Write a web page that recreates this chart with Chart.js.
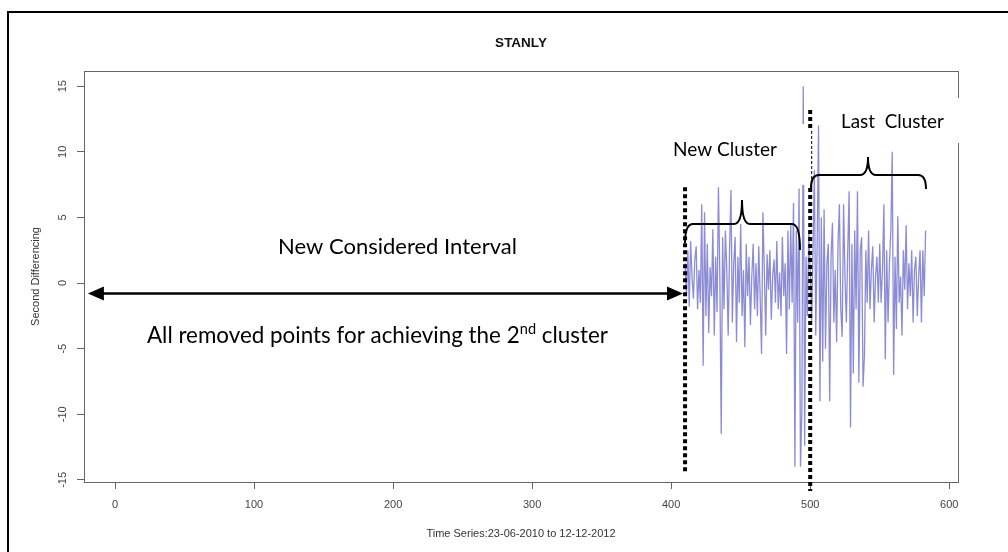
<!DOCTYPE html>
<html>
<head>
<meta charset="utf-8">
<script src="https://cdn.jsdelivr.net/npm/chart.js@4.4.1/dist/chart.umd.min.js"></script>
<style>
  html, body { margin: 0; padding: 0; background: #fff; }
  #wrap { width: 1008px; height: 552px; position: relative; }
</style>
</head>
<body>
<div id="wrap"><canvas id="chart"></canvas></div>
<script>
// second differenced series, first value sits at index 410
const startIndex = 410;
const secondDiff = [
  1.5, -1.0, 2.5, -1.8, 3.2, 0.5, -1.2, 1.8, 2.8, -2.0,
  1.0, -1.5, 6.0, -6.3, 5.4, -2.5, 3.0, -3.8, 1.2, -1.0,
  4.1, -4.0, 2.0, -2.2, 7.3, 0.5, -11.5, 3.5, -2.0, 4.0,
  1.0, -4.0, 2.5, 7.1, -3.0, 1.5, 3.5, -4.5, 2.0, -1.5,
  4.5, -2.5, 1.0, -4.9, 3.0, -1.0, 2.0, -3.2, 0.5, 3.0,
  -2.0, 1.5, -2.5, 2.8, -1.0, -5.4, 5.4, 1.0, -4.0, 2.2,
  -0.5, 2.5, -2.8, 0.5, 1.8, -1.5, 3.2, -2.0, 0.8, -2.5,
  3.5, -1.0, 1.5, -5.4, 4.0, -2.0, 4.5, -1.5, 6.1, -14.0,
  4.0, -3.0, 7.2, -14.0, -9.8, 15.0, -12.4, 2.0, -2.5, 4.0,
  1.0, -3.0, 2.5, 8.6, -4.0, 3.0, 12.0, -9.0, 5.0, -6.0,
  5.6, -5.0, 1.5, 3.0, -9.0, 2.0, 4.6, -3.0, 1.0, -4.5,
  3.0, 6.0, -2.0, -4.1, 6.0, 0.5, -3.0, 2.5, 7.0, -11.0,
  3.0, -6.9, 4.0, -2.0, 7.0, -7.6, 2.5, 3.5, -7.9, -5.6,
  2.5, -1.5, 4.0, -2.0, 1.0, 2.8, -3.0, 0.5, 2.0, -1.5,
  3.0, -1.5, 1.0, 6.0, -5.8, 2.5, -3.0, 1.5, 4.0, 10.0,
  -7.0, 2.0, -3.5, 5.1, -1.5, 0.5, -4.0, 2.5, -0.5, 4.4,
  -2.0, 1.5, -1.0, 2.5, -3.0, 1.0, 2.0, -2.5, 0.5, 2.5,
  -3.0, 2.5, -1.0, 4.0
];
const xTicks = [0, 100, 200, 300, 400, 500, 600];
const yTicks = [-15, -10, -5, 0, 5, 10, 15];

const points = secondDiff.map((v, i) => ({ x: startIndex + i, y: v }));

const ANNO_FONT = "Lato, 'Open Sans', sans-serif";

// scale the font so the string spans the wanted width
function fitFont(ctx, text, width, weight) {
  ctx.font = (weight || "") + " 20px " + ANNO_FONT;
  const w = ctx.measureText(text).width;
  return 20 * width / w;
}

function brace(ctx, x1, x2, xc, yEnd1, yEnd2, yBar, yPeak) {
  const r = 8;
  ctx.beginPath();
  ctx.moveTo(x1, yEnd1);
  ctx.quadraticCurveTo(x1, yBar, x1 + r, yBar);
  ctx.lineTo(xc - r, yBar);
  ctx.quadraticCurveTo(xc, yBar, xc, yPeak);
  ctx.quadraticCurveTo(xc, yBar, xc + r, yBar);
  ctx.lineTo(x2 - r, yBar);
  ctx.quadraticCurveTo(x2, yBar, x2, yEnd2);
  ctx.stroke();
}

function arrowHead(ctx, x, y, dir) {
  ctx.beginPath();
  ctx.moveTo(x, y);
  ctx.lineTo(x - dir * 16, y - 7);
  ctx.lineTo(x - dir * 16, y + 7);
  ctx.closePath();
  ctx.fill();
}

const overlay = {
  id: "overlay",
  afterDraw(chart) {
    const ctx = chart.ctx;
    const a = chart.chartArea;
    const xs = chart.scales.x;
    const ys = chart.scales.y;
    ctx.save();

    // outer frame
    ctx.fillStyle = "#000";
    ctx.fillRect(7, 11, 1001, 2);
    ctx.fillRect(7, 11, 2, 541);

    // plot box
    ctx.strokeStyle = "#666";
    ctx.lineWidth = 1;
    ctx.strokeRect(a.left + 0.5, a.top + 0.5, a.right - a.left, a.bottom - a.top);

    // rotated y tick labels
    ctx.fillStyle = "#444";
    ctx.font = "11px 'Liberation Sans', Arial, sans-serif";
    ctx.textAlign = "center";
    ctx.textBaseline = "middle";
    ys.ticks.forEach(t => {
      const py = ys.getPixelForValue(t.value);
      ctx.save();
      ctx.translate(a.left - 21, py);
      ctx.rotate(-Math.PI / 2);
      ctx.fillText(String(t.value), 0, 0);
      ctx.restore();
    });

    // axis titles and main title
    ctx.fillStyle = "#333";
    ctx.save();
    ctx.translate(36, (a.top + a.bottom) / 2);
    ctx.rotate(-Math.PI / 2);
    ctx.fillText("Second Differencing", 0, 0);
    ctx.restore();
    ctx.fillText("Time Series:23-06-2010 to 12-12-2012", (a.left + a.right) / 2, 534);
    ctx.fillStyle = "#111";
    ctx.font = "bold 13.5px 'Liberation Sans', Arial, sans-serif";
    ctx.fillText("STANLY", (a.left + a.right) / 2, 43);

    // label boxes over the series
    ctx.fillStyle = "#fff";
    ctx.fillRect(662, 124, 146, 61);
    ctx.fillRect(822, 98, 142, 45);

    // cluster limits
    const xA = xs.getPixelForValue(410);
    const xB = xs.getPixelForValue(500);
    ctx.strokeStyle = "#000";
    ctx.lineWidth = 4;
    ctx.setLineDash([4, 3]);
    ctx.beginPath();
    ctx.moveTo(xA, ys.getPixelForValue(7.3));
    ctx.lineTo(xA, ys.getPixelForValue(-14.4));
    ctx.moveTo(xB, 110);
    ctx.lineTo(xB, 131);
    ctx.moveTo(xB, 188);
    ctx.lineTo(xB, 491);
    ctx.stroke();
    ctx.lineWidth = 1;
    ctx.setLineDash([3, 2]);
    ctx.beginPath();
    ctx.moveTo(xB + 1.5, 131);
    ctx.lineTo(xB + 1.5, 188);
    ctx.stroke();
    ctx.setLineDash([]);

    // braces
    ctx.lineWidth = 2;
    brace(ctx, 685, 800, 742, 243, 250, 224, 200);
    brace(ctx, 811, 926, 868, 188, 189, 175, 157);

    // double arrow
    const yArr = ys.getPixelForValue(-0.8);
    const xL = xs.getPixelForValue(-19.5);
    const xR = xs.getPixelForValue(408.5);
    ctx.lineWidth = 2.5;
    ctx.beginPath();
    ctx.moveTo(xL + 10, yArr);
    ctx.lineTo(xR - 10, yArr);
    ctx.stroke();
    ctx.fillStyle = "#000";
    arrowHead(ctx, xL, yArr, -1);
    arrowHead(ctx, xR, yArr, 1);

    // text notes
    ctx.textAlign = "left";
    ctx.textBaseline = "middle";
    let s = fitFont(ctx, "New Considered Interval", 239);
    ctx.font = s + "px " + ANNO_FONT;
    ctx.fillText("New Considered Interval", 278, 247);

    s = fitFont(ctx, "New Cluster", 104);
    ctx.font = s + "px " + ANNO_FONT;
    ctx.fillText("New Cluster", 673, 150);

    s = fitFont(ctx, "Last  Cluster", 103);
    ctx.font = s + "px " + ANNO_FONT;
    ctx.fillText("Last  Cluster", 841, 122);

    const p1 = "All removed points for achieving the 2";
    const sup = "nd";
    const p2 = " cluster";
    ctx.font = "20px " + ANNO_FONT;
    const w1 = ctx.measureText(p1).width;
    const w3 = ctx.measureText(p2).width;
    ctx.font = "13px " + ANNO_FONT;
    const w2 = ctx.measureText(sup).width;
    const k = 461 / (w1 + w2 + w3);
    let x = 147;
    ctx.font = (20 * k) + "px " + ANNO_FONT;
    ctx.fillText(p1, x, 336);
    x += w1 * k;
    ctx.font = (13 * k) + "px " + ANNO_FONT;
    ctx.fillText(sup, x, 329);
    x += w2 * k;
    ctx.font = (20 * k) + "px " + ANNO_FONT;
    ctx.fillText(p2, x, 336);

    ctx.restore();
  }
};

new Chart(document.getElementById("chart"), {
  type: "line",
  data: {
    datasets: [{
      data: points,
      borderColor: "rgba(45, 45, 180, 0.55)",
      borderWidth: 1.3,
      pointRadius: 0,
      tension: 0,
      fill: false
    }]
  },
  options: {
    responsive: true,
    maintainAspectRatio: false,
    animation: false,
    layout: { padding: { top: 71, right: 50, left: 0, bottom: 0 } },
    plugins: { legend: { display: false }, tooltip: { enabled: false } },
    scales: {
      x: {
        type: "linear",
        min: -22.3,
        max: 606.3,
        afterBuildTicks: scale => { scale.ticks = xTicks.map(v => ({ value: v })); },
        afterFit: scale => { scale.height = 70; },
        grid: { drawOnChartArea: false, drawTicks: true, tickLength: 7, tickColor: "#666" },
        border: { display: false },
        ticks: {
          color: "#444",
          padding: 9,
          maxRotation: 0,
          font: { family: "'Liberation Sans', Arial, sans-serif", size: 11 }
        }
      },
      y: {
        type: "linear",
        min: -15.16,
        max: 16.16,
        afterBuildTicks: scale => { scale.ticks = yTicks.map(v => ({ value: v })); },
        afterFit: scale => { scale.width = 84; },
        grid: { drawOnChartArea: false, drawTicks: true, tickLength: 7, tickColor: "#666" },
        border: { display: false },
        ticks: { color: "rgba(0,0,0,0)", font: { size: 11 } }
      }
    }
  },
  plugins: [overlay]
});
</script>
</body>
</html>
